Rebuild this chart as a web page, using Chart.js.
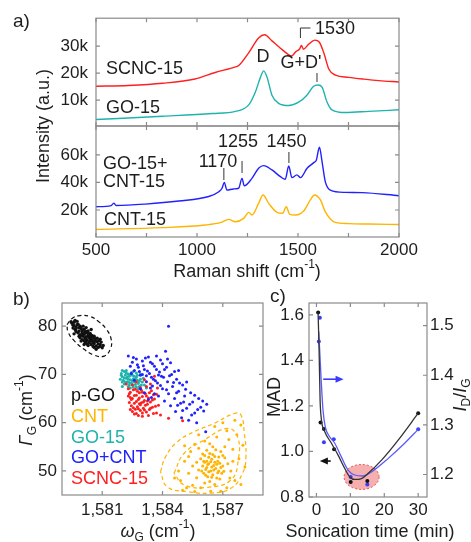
<!DOCTYPE html>
<html>
<head>
<meta charset="utf-8">
<script src="https://cdn.jsdelivr.net/npm/chart.js@4.4.0/dist/chart.umd.min.js"></script>
<style>
  html, body { margin: 0; padding: 0; background: #fff; }
  #wrap { position: relative; width: 471px; height: 542px; overflow: hidden; }
  #wrap canvas { position: absolute; left: 0; top: 0; }
</style>
</head>
<body>
<div id="wrap">
  <canvas id="ramanTop" width="471" height="542"></canvas>
  <canvas id="ramanBottom" width="471" height="542"></canvas>
  <canvas id="mapB" width="471" height="542"></canvas>
  <canvas id="sonicC" width="471" height="542"></canvas>
</div>
<script>
// ---------- panel a: Raman spectra ----------
const scncShift = [500, 660, 830, 990, 1090, 1190, 1207, 1255, 1305, 1335, 1371, 1413, 1446, 1468, 1490, 1508, 1517, 1527, 1553, 1583, 1606, 1628, 1653, 1686, 1750, 1820, 1900, 2000];
const scncInt = [15100, 15400, 16200, 17800, 20200, 22300, 22800, 27400, 33000, 34200, 31900, 29200, 27200, 26300, 28000, 28900, 30200, 28800, 30700, 32200, 31400, 27400, 21400, 19200, 18400, 17800, 17200, 16700];

const goShift = [500, 830, 1075, 1190, 1256, 1289, 1314, 1330, 1347, 1371, 1404, 1454, 1503, 1544, 1577, 1599, 1619, 1643, 1668, 1734, 1850, 2000];
const goInt = [2800, 4000, 5000, 5800, 8200, 13000, 18400, 20800, 18400, 11800, 8800, 8000, 9200, 11800, 15100, 15600, 14800, 9400, 6400, 5400, 5800, 6400];

const mixShift = [500, 575, 588, 600, 745, 910, 1058, 1108, 1124, 1135, 1148, 1181, 1206, 1223, 1234, 1272, 1305, 1330, 1371, 1413, 1437, 1454, 1470, 1495, 1512, 1545, 1578, 1591, 1606, 1619, 1635, 1660, 1734, 1817, 2000];
const mixInt = [22400, 23200, 25000, 23300, 24300, 26500, 29800, 33300, 35800, 40100, 34500, 35300, 35800, 43000, 37500, 43000, 50300, 52200, 49100, 44200, 42300, 52000, 43500, 45500, 43500, 50300, 54400, 56400, 65600, 55200, 40600, 34500, 32800, 32600, 30400];

const cntShift = [500, 830, 1040, 1120, 1157, 1190, 1231, 1256, 1272, 1305, 1327, 1355, 1396, 1424, 1442, 1459, 1487, 1528, 1561, 1581, 1611, 1635, 1660, 1685, 1750, 1850, 2000];
const cntInt = [5900, 7200, 9100, 11000, 13200, 11500, 13900, 18300, 16400, 24800, 30900, 24800, 18300, 17600, 22400, 16800, 16400, 19300, 27300, 30900, 27300, 18800, 13500, 11000, 10100, 9800, 9500];

const ramanTicks = [500, 1000, 1500, 2000];
const ramanMinor = [500, 750, 1000, 1250, 1500, 1750, 2000];
const topTicks = [10000, 20000, 30000];
const bottomTicks = [20000, 40000, 60000];

// ---------- panel b: G-band position vs width maps ----------
const pgoW = [1579.5, 1579.6, 1579.7, 1579.8, 1579.65, 1579.85, 1579.95, 1580.0, 1580.1, 1579.9, 1580.2, 1580.3, 1580.15, 1580.05, 1580.4, 1580.25, 1580.5, 1580.35, 1580.6, 1580.45, 1580.7, 1580.8, 1580.55, 1580.0, 1579.8, 1579.7, 1580.2, 1580.65, 1580.75, 1580.9, 1581.0, 1580.4, 1580.5, 1580.1, 1579.55, 1579.45, 1579.75, 1580.3, 1580.6, 1580.85, 1580.95, 1580.3, 1580.15, 1579.9, 1580.05, 1579.6, 1580.7, 1580.45, 1580.25, 1579.95, 1580.35, 1580.55, 1580.2, 1580.0, 1580.1,
  1579.6, 1579.75, 1579.9, 1579.7, 1579.85, 1580.0, 1580.15, 1580.3, 1580.45, 1580.6, 1580.75, 1580.9, 1580.05, 1579.85, 1580.2, 1580.35, 1580.5, 1580.65, 1580.8, 1580.4, 1580.25, 1580.6, 1580.9, 1581.05, 1580.1, 1579.95, 1579.55, 1579.65, 1580.2, 1580.45];
const pgoG = [80.6, 80.1, 79.8, 80.4, 79.3, 79.0, 79.5, 78.8, 78.3, 78.2, 78.9, 77.9, 77.5, 77.9, 77.4, 77.1, 76.9, 76.6, 76.4, 76.2, 75.9, 75.6, 75.8, 77.2, 78.6, 78.9, 76.8, 77.2, 76.8, 76.2, 75.5, 78.5, 78.0, 79.3, 79.6, 80.9, 81.0, 79.0, 77.6, 77.0, 76.7, 76.0, 76.5, 77.6, 80.0, 78.4, 75.2, 77.7, 78.6, 78.1, 78.2, 76.6, 77.3, 78.4, 77.0,
  80.8, 80.3, 80.0, 79.5, 79.7, 79.2, 78.7, 78.4, 78.1, 77.9, 77.5, 77.3, 78.6, 77.9, 77.8, 77.6, 77.2, 76.9, 76.3, 76.9, 76.3, 75.6, 75.8, 76.0, 76.2, 76.9, 80.2, 81.2, 79.7, 79.3];
const pgoRingW = [1579.25, 1579.5, 1579.9, 1580.4, 1580.8, 1581.2, 1581.45, 1581.4, 1581.1, 1580.6, 1580.1, 1579.6, 1579.3, 1579.25];
const pgoRingG = [80.3, 81.6, 82.2, 82.0, 81.0, 79.4, 77.2, 75.2, 73.8, 74.0, 75.2, 77.0, 78.8, 80.3];

const go15W = [1581.95, 1582.0, 1582.05, 1582.1, 1582.15, 1582.2, 1582.25, 1582.3, 1582.35, 1582.4, 1582.45, 1582.5, 1582.55, 1582.6, 1582.65, 1582.7, 1582.75, 1582.8, 1582.85, 1582.9, 1583.0, 1583.1, 1583.2, 1582.2, 1582.35, 1582.55, 1582.1, 1581.9, 1582.0, 1582.7, 1582.45, 1582.8, 1582.25, 1582.6, 1582.4,
  1582.0, 1582.1, 1582.15, 1582.3, 1582.4, 1582.5, 1582.55, 1582.65, 1582.75, 1582.85, 1582.95, 1583.05, 1582.3, 1582.0, 1581.95, 1582.5, 1582.7, 1582.2, 1582.9, 1582.35];
const go15G = [70.2, 69.5, 68.8, 70.6, 69.9, 69.2, 68.5, 70.1, 69.6, 68.9, 68.2, 69.8, 69.1, 68.5, 67.9, 69.4, 68.8, 68.1, 67.5, 69.0, 68.4, 67.8, 67.2, 70.8, 67.8, 67.4, 68.0, 69.0, 67.5, 70.3, 70.4, 67.0, 69.5, 69.6, 67.2,
  70.8, 69.3, 68.4, 69.0, 70.0, 68.7, 70.6, 69.0, 69.8, 68.6, 67.8, 69.2, 67.5, 68.4, 69.8, 67.9, 67.4, 70.3, 70.1, 68.3];

const mixW = [1582.3, 1582.5, 1582.6, 1582.7, 1582.8, 1582.9, 1583.0, 1583.1, 1583.2, 1583.3, 1583.35, 1583.4, 1583.5, 1583.55, 1583.6, 1583.7, 1583.75, 1583.8, 1583.9, 1583.95, 1584.0, 1584.1, 1584.15, 1584.2, 1584.25, 1584.3, 1584.4, 1584.45, 1584.5, 1584.6, 1584.65, 1584.7, 1584.8, 1584.9, 1584.95, 1585.0, 1585.1, 1585.2, 1585.3, 1585.4, 1585.5, 1585.6, 1585.8, 1585.9, 1586.0, 1586.2, 1585.7, 1582.9, 1583.1, 1583.3, 1582.6, 1583.0, 1584.0, 1584.6, 1583.8, 1583.45, 1584.3, 1585.2, 1582.45, 1586.15,
  1582.4, 1582.55, 1582.75, 1582.85, 1583.05, 1583.15, 1583.25, 1583.4, 1583.45, 1583.6, 1583.65, 1583.85, 1583.9, 1584.05, 1584.1, 1584.2, 1584.35, 1584.4, 1584.55, 1584.7, 1584.75, 1584.85, 1585.05, 1585.15, 1585.35, 1585.45, 1585.6, 1585.75, 1586.05, 1585.0, 1583.2, 1583.5, 1584.8, 1583.7, 1584.25];
const mixG = [73.8, 72.5, 70.8, 73.2, 71.5, 69.8, 72.8, 71.0, 68.5, 73.6, 70.2, 67.2, 72.2, 69.0, 66.0, 71.0, 68.2, 65.5, 73.0, 69.6, 67.0, 64.5, 74.8, 71.5, 68.5, 66.0, 63.5, 70.0, 67.5, 65.0, 62.3, 69.0, 66.5, 64.0, 61.0, 67.8, 65.5, 63.0, 60.5, 66.2, 64.3, 62.0, 65.0, 63.2, 64.5, 63.8, 60.0, 67.0, 66.2, 64.8, 68.8, 70.0, 72.2, 70.6, 69.9, 65.2, 80.0, 68.4, 70.2, 58.1,
  71.7, 73.5, 72.0, 70.6, 71.8, 73.4, 70.7, 72.5, 69.4, 71.7, 68.7, 70.5, 67.7, 69.4, 71.0, 66.8, 69.7, 72.4, 68.3, 66.2, 63.6, 68.2, 64.3, 66.9, 63.8, 61.6, 65.7, 62.7, 62.4, 62.5, 69.7, 67.6, 70.8, 73.8, 73.2];

const scncW = [1582.3, 1582.35, 1582.4, 1582.45, 1582.5, 1582.55, 1582.6, 1582.65, 1582.7, 1582.75, 1582.8, 1582.85, 1582.9, 1582.95, 1583.0, 1583.05, 1583.1, 1583.15, 1583.2, 1583.25, 1583.3, 1583.35, 1583.4, 1583.45, 1583.5, 1583.6, 1583.7, 1583.8, 1583.9, 1582.5, 1582.7, 1582.9, 1583.1, 1582.6, 1582.8, 1583.0, 1583.2, 1583.4, 1582.4, 1583.55, 1582.65, 1583.15, 1582.95, 1583.3, 1584.3, 1585.0, 1583.6, 1582.2, 1583.75, 1582.85,
  1582.35, 1582.45, 1582.55, 1582.6, 1582.7, 1582.75, 1582.8, 1582.85, 1582.9, 1583.0, 1583.05, 1583.1, 1583.2, 1583.25, 1583.35, 1583.4, 1583.5, 1583.65, 1583.7, 1582.5, 1582.7, 1583.0, 1583.55, 1582.4, 1582.3];
const scncG = [65.5, 64.2, 66.3, 63.5, 65.0, 66.8, 64.0, 62.8, 65.7, 63.3, 64.8, 66.2, 62.5, 64.1, 65.4, 63.0, 64.6, 66.0, 62.2, 63.8, 65.1, 62.7, 64.3, 66.6, 63.2, 64.9, 62.0, 63.6, 61.6, 67.8, 68.4, 67.3, 68.9, 61.8, 61.5, 62.0, 67.5, 68.0, 62.7, 65.8, 66.9, 63.6, 66.7, 61.5, 60.9, 60.4, 69.6, 68.0, 67.2, 63.9,
  66.0, 64.8, 63.1, 65.6, 64.4, 66.5, 62.9, 65.1, 63.7, 66.3, 64.3, 62.6, 65.5, 64.5, 66.2, 63.0, 64.7, 63.4, 65.9, 62.3, 61.9, 61.3, 61.9, 65.2, 67.0];

const cntW = [1585.9, 1586.0, 1586.05, 1586.1, 1586.15, 1586.2, 1586.25, 1586.3, 1586.35, 1586.4, 1586.45, 1586.5, 1586.55, 1586.6, 1586.65, 1586.7, 1586.75, 1586.8, 1586.85, 1586.9, 1586.95, 1587.0, 1586.2, 1586.35, 1586.5, 1585.8, 1585.7, 1586.1, 1586.6, 1587.1, 1586.3, 1586.45, 1586.25, 1586.6, 1586.05,
  1584.8, 1584.9, 1585.1, 1585.2, 1585.3, 1585.4, 1585.5, 1585.6, 1585.1, 1585.0, 1587.3, 1587.5, 1587.7, 1587.4, 1587.6, 1587.8, 1587.2, 1586.9, 1586.4, 1587.9, 1587.6, 1587.2, 1586.7, 1586.1, 1588.0, 1588.1, 1587.9, 1585.6, 1587.1, 1585.8,
  1586.0, 1586.1, 1586.2, 1586.3, 1586.4, 1586.5, 1586.55, 1586.7, 1586.75, 1586.8, 1586.9, 1587.0, 1586.15, 1586.45, 1586.85, 1587.05, 1585.95, 1586.65, 1586.35, 1585.5, 1585.3, 1585.7, 1587.25, 1587.5, 1587.35, 1585.9, 1586.6, 1587.0, 1584.6, 1585.8];
const cntG = [52.5, 51.0, 49.5, 53.2, 50.3, 52.0, 48.8, 51.5, 53.6, 50.0, 52.4, 49.2, 51.1, 53.0, 50.5, 48.5, 52.0, 50.0, 51.6, 54.0, 49.5, 51.0, 54.3, 47.8, 55.0, 50.2, 51.8, 47.5, 47.2, 52.7, 49.8, 50.8, 51.3, 51.8, 52.0,
  50.0, 48.0, 52.0, 46.5, 49.5, 54.0, 47.0, 55.5, 55.2, 46.0, 56.5, 54.5, 57.5, 50.0, 48.0, 52.5, 46.5, 45.8, 45.8, 59.5, 60.5, 58.3, 57.0, 56.2, 55.3, 50.8, 47.2, 45.7, 55.0, 57.5,
  53.5, 51.8, 50.7, 52.8, 51.9, 53.4, 50.2, 51.4, 49.6, 52.9, 50.7, 53.2, 49.1, 48.7, 48.3, 49.9, 50.0, 54.4, 55.6, 51.0, 53.0, 48.6, 51.5, 52.0, 48.5, 46.5, 59.2, 60.0, 48.5, 54.7];
const cntOuterW = [1583.9, 1584.15, 1584.73, 1585.57, 1586.57, 1587.57, 1587.9, 1588.07, 1588.15, 1587.98, 1587.4, 1586.4, 1585.23, 1584.23, 1583.9];
const cntOuterG = [49.8, 52.9, 56.0, 58.1, 59.85, 61.9, 61.6, 57.8, 52.9, 49.5, 46.4, 45.4, 45.7, 46.7, 49.8];
const cntInnerW = [1584.57, 1585.07, 1586.07, 1587.23, 1587.73, 1587.77, 1587.4, 1586.23, 1585.07, 1584.57];
const cntInnerG = [49.5, 53.6, 56.4, 58.8, 57.1, 52.3, 48.1, 46.6, 47.1, 49.5];

const omegaTicks = [1581, 1584, 1587];
const gammaTicks = [50, 60, 70, 80];

// ---------- panel c: sonication series ----------
const sonicTime = [0.5, 1.2, 2.2, 5.2, 10.1, 15, 30];
const madValue = [1.61, 1.127, 1.099, 1.01, 0.866, 0.87, 1.168];
const ratioTime = [0.7, 1.0, 2.2, 5.1, 10.1, 15, 30];
const ratioValue = [1.468, 1.516, 1.265, 1.271, 1.195, 1.180, 1.291];
const madFitTime = [0.48, 0.77, 1.07, 1.47, 2.45, 4.42, 6.38, 8.35, 9.82, 11.3, 13.3, 15.2, 19.2, 24.1, 30];
const madFitValue = [1.61, 1.448, 1.227, 1.139, 1.087, 1.036, 0.984, 0.925, 0.888, 0.877, 0.881, 0.903, 0.962, 1.05, 1.168];
const ratioFitTime = [0.66, 0.95, 1.44, 1.93, 2.6, 3.9, 5.4, 7.3, 9.3, 11.3, 13.7, 16.2, 21.1, 26.0, 30];
const ratioFitValue = [1.488, 1.451, 1.384, 1.33, 1.296, 1.276, 1.263, 1.236, 1.209, 1.199, 1.197, 1.205, 1.232, 1.263, 1.291];

const timeTicks = [0, 10, 20, 30];
const madTicks = [0.8, 1.0, 1.2, 1.4, 1.6];
const ratioTicks = [1.2, 1.3, 1.4, 1.5];

// ---------- common helpers ----------
const FONT = "'Liberation Sans', Arial, sans-serif";
const INK = '#1e1e1e';
const FRAME = '#8a8a8a';
const TICK = 4;
const RED = '#ff1f1f', TEAL = '#1fb3ad', BLUE = '#2121ff', ORANGE = '#ffb400';

Chart.defaults.font.family = FONT;
Chart.defaults.color = INK;
Chart.defaults.animation = false;
Chart.defaults.events = [];
Chart.defaults.plugins.legend.display = false;
Chart.defaults.plugins.tooltip.enabled = false;

const pts = (xs, ys) => xs.map((x, i) => ({ x, y: ys[i] }));
const fixedTicks = values => scale => { scale.ticks = values.map(v => ({ value: v })); };

function axis(extra) {
    return Object.assign({
        type: 'linear',
        grid: { display: false, drawTicks: false },
        border: { display: false },
    }, extra);
}

// text with optional italic / sub / superscript pieces: [text, kind]
function rich(ctx, parts, x, y, opt) {
    const size = opt.size || 18;
    const fontFor = kind => {
        const small = kind === 'sub' || kind === 'sup' || kind === 'isub';
        const it = kind === 'i' || kind === 'isub';
        return (it ? 'italic ' : '') + Math.round(small ? size * 0.68 : size) + 'px ' + FONT;
    };
    let total = 0;
    parts.forEach(p => { ctx.font = fontFor(p[1]); total += ctx.measureText(p[0]).width; });
    ctx.save();
    ctx.translate(x, y);
    if (opt.rotate) ctx.rotate(-Math.PI / 2);
    ctx.fillStyle = opt.color || INK;
    ctx.textBaseline = 'middle';
    ctx.textAlign = 'left';
    let cx = opt.align === 'center' ? -total / 2 : 0;
    parts.forEach(p => {
        ctx.font = fontFor(p[1]);
        let dy = 0;
        if (p[1] === 'sub' || p[1] === 'isub') dy = size * 0.3;
        if (p[1] === 'sup') dy = -size * 0.38;
        ctx.fillText(p[0], cx, dy);
        cx += ctx.measureText(p[0]).width;
    });
    ctx.restore();
}
const label = (ctx, t, x, y, opt) => rich(ctx, [[t, '']], x, y, opt || {});

function stroke(ctx, coords, color, width) {
    ctx.beginPath();
    ctx.moveTo(coords[0], coords[1]);
    for (let i = 2; i < coords.length; i += 2) ctx.lineTo(coords[i], coords[i + 1]);
    ctx.strokeStyle = color || '#333';
    ctx.lineWidth = width || 1;
    ctx.stroke();
}

function arrow(ctx, x0, y0, x1, color) {
    const dir = Math.sign(x1 - x0);
    stroke(ctx, [x0, y0, x1 - dir * 6, y0], color, 1.6);
    ctx.beginPath();
    ctx.moveTo(x1, y0);
    ctx.lineTo(x1 - dir * 8, y0 - 3.5);
    ctx.lineTo(x1 - dir * 8, y0 + 3.5);
    ctx.closePath();
    ctx.fillStyle = color;
    ctx.fill();
}

// box frame with inward ticks, plus chart specific drawing
function framePlugin(spec) {
    return {
        id: 'frame',
        beforeDatasetsDraw(chart) {
            if (!spec.under) return;
            chart.ctx.save();
            spec.under(chart, chart.ctx);
            chart.ctx.restore();
        },
        afterDatasetsDraw(chart) {
            const ctx = chart.ctx, a = chart.chartArea;
            ctx.save();
            ctx.strokeStyle = FRAME;
            ctx.lineWidth = 1.2;
            ctx.strokeRect(a.left, a.top, a.width, a.height);
            ctx.beginPath();
            spec.ticks.forEach(t => {
                const s = chart.scales[t.scale];
                t.values.forEach(v => {
                    const p = s.getPixelForValue(v);
                    t.sides.forEach(side => {
                        if (side === 'top') { ctx.moveTo(p, a.top); ctx.lineTo(p, a.top + TICK); }
                        if (side === 'bottom') { ctx.moveTo(p, a.bottom); ctx.lineTo(p, a.bottom - TICK); }
                        if (side === 'left') { ctx.moveTo(a.left, p); ctx.lineTo(a.left + TICK, p); }
                        if (side === 'right') { ctx.moveTo(a.right, p); ctx.lineTo(a.right - TICK, p); }
                    });
                });
            });
            ctx.stroke();
            if (spec.over) spec.over(chart, ctx);
            ctx.restore();
        }
    };
}

const spectrum = (xs, ys, color) => ({
    data: pts(xs, ys), borderColor: color, borderWidth: 1.4,
    pointRadius: 0, cubicInterpolationMode: 'monotone', fill: false,
});

// ---------- panel a, upper part ----------
new Chart(document.getElementById('ramanTop'), {
    type: 'line',
    data: { datasets: [spectrum(scncShift, scncInt, RED), spectrum(goShift, goInt, TEAL)] },
    options: {
        responsive: false,
        layout: { padding: { left: 0, top: 15, right: 72, bottom: 416 } },
        scales: {
            x: axis({ min: 500, max: 2000, display: false }),
            y: axis({
                min: 400, max: 40300,
                afterFit: s => { s.width = 96; },
                afterBuildTicks: fixedTicks(topTicks),
                ticks: { font: { size: 17 }, padding: 8, autoSkip: false, callback: v => v / 1000 + 'k' },
            }),
        },
    },
    plugins: [framePlugin({
        ticks: [
            { scale: 'x', values: ramanMinor, sides: ['top', 'bottom'] },
            { scale: 'y', values: topTicks, sides: ['left', 'right'] },
        ],
        over(chart, ctx) {
            const x = chart.scales.x;
            label(ctx, 'a)', 13, 22, { size: 19 });
            label(ctx, 'Intensity (a.u.)', 44, 126, { rotate: true, align: 'center' });
            label(ctx, 'SCNC-15', 106, 69);
            label(ctx, 'GO-15', 106, 108);
            label(ctx, 'D', 263, 57, { align: 'center' });
            label(ctx, "G+D'", 301, 63, { align: 'center' });
            stroke(ctx, [x.getPixelForValue(1594), 73, x.getPixelForValue(1594), 82]);
            label(ctx, '1530', 315, 29);
            const bx = x.getPixelForValue(1512);
            stroke(ctx, [bx, 38, bx, 28, bx + 10, 28]);
        },
    })],
});

// ---------- panel a, lower part ----------
new Chart(document.getElementById('ramanBottom'), {
    type: 'line',
    data: { datasets: [spectrum(mixShift, mixInt, BLUE), spectrum(cntShift, cntInt, ORANGE)] },
    options: {
        responsive: false,
        layout: { padding: { left: 0, top: 126, right: 72, bottom: 256 } },
        scales: {
            x: axis({
                min: 500, max: 2000,
                afterFit: s => { s.height = 49; },
                afterBuildTicks: fixedTicks(ramanTicks),
                ticks: { font: { size: 17 }, padding: 3, autoSkip: false, maxRotation: 0, callback: v => String(v) },
            }),
            y: axis({
                min: 400, max: 81000,
                afterFit: s => { s.width = 96; },
                afterBuildTicks: fixedTicks(bottomTicks),
                ticks: { font: { size: 17 }, padding: 8, autoSkip: false, callback: v => v / 1000 + 'k' },
            }),
        },
    },
    plugins: [framePlugin({
        ticks: [
            { scale: 'x', values: ramanMinor, sides: ['top', 'bottom'] },
            { scale: 'y', values: bottomTicks, sides: ['left', 'right'] },
        ],
        over(chart, ctx) {
            const x = chart.scales.x;
            label(ctx, 'GO-15+', 103, 164);
            label(ctx, 'CNT-15', 103, 182.5);
            label(ctx, 'CNT-15', 104, 220);
            label(ctx, '1170', 218, 162.5, { align: 'center' });
            label(ctx, '1255', 238, 142.5, { align: 'center' });
            label(ctx, '1450', 286.5, 142.5, { align: 'center' });
            [[1133, 168, 180], [1223, 161, 173], [1455, 152, 163]].forEach(m => {
                const px = x.getPixelForValue(m[0]);
                stroke(ctx, [px, m[1], px, m[2]]);
            });
            rich(ctx, [['Raman shift (cm', ''], ['-1', 'sup'], [')', '']], 247, 272, { align: 'center' });
        },
    })],
});

// ---------- panel b ----------
const dots = (xs, ys, color, r) => ({
    type: 'scatter', data: pts(xs, ys), pointRadius: r || 1.5, pointBorderWidth: 0,
    pointBackgroundColor: color, showLine: false,
});
const ring = (xs, ys, color) => ({
    type: 'line', data: pts(xs, ys), borderColor: color, borderWidth: 1.2, borderDash: [4, 3],
    pointRadius: 0, tension: 0.45, fill: false,
});

new Chart(document.getElementById('mapB'), {
    type: 'scatter',
    data: {
        datasets: [
            ring(cntOuterW, cntOuterG, ORANGE),
            ring(cntInnerW, cntInnerG, ORANGE),
            dots(cntW, cntG, ORANGE),
            ring(pgoRingW, pgoRingG, '#111'),
            dots(pgoW, pgoG, '#111', 1.7),
            dots(mixW, mixG, BLUE),
            dots(scncW, scncG, RED),
            dots(go15W, go15G, TEAL),
        ],
    },
    options: {
        responsive: false,
        layout: { padding: { left: 0, top: 303, right: 208, bottom: 0 } },
        scales: {
            x: axis({
                min: 1579, max: 1589,
                afterFit: s => { s.height = 47; },
                afterBuildTicks: fixedTicks(omegaTicks),
                ticks: { font: { size: 17 }, padding: 5, autoSkip: false, maxRotation: 0, callback: v => v.toLocaleString('en-US') },
            }),
            y: axis({
                min: 45, max: 84.8,
                afterFit: s => { s.width = 62; },
                afterBuildTicks: fixedTicks(gammaTicks),
                ticks: { font: { size: 17 }, padding: 5, autoSkip: false, callback: v => String(v) },
            }),
        },
    },
    plugins: [framePlugin({
        ticks: [
            { scale: 'x', values: omegaTicks, sides: ['top', 'bottom'] },
            { scale: 'y', values: gammaTicks, sides: ['left', 'right'] },
        ],
        over(chart, ctx) {
            label(ctx, 'b)', 13, 300, { size: 19 });
            rich(ctx, [['Γ', 'i'], ['G', 'sub'], [' (cm', ''], ['-1', 'sup'], [')', '']], 27, 410, { rotate: true, align: 'center' });
            rich(ctx, [['ω', 'i'], ['G', 'sub'], [' (cm', ''], ['-1', 'sup'], [')', '']], 158, 532, { align: 'center' });
            label(ctx, 'p-GO', 71, 396, { color: '#111' });
            label(ctx, 'CNT', 71, 417, { color: ORANGE });
            label(ctx, 'GO-15', 71, 438, { color: TEAL });
            label(ctx, 'GO+CNT', 71, 458, { color: BLUE });
            label(ctx, 'SCNC-15', 71, 479, { color: RED });
        },
    })],
});

// ---------- panel c ----------
const C_BLUE = '#3b3bff';
new Chart(document.getElementById('sonicC'), {
    type: 'line',
    data: {
        datasets: [
            { data: pts(madFitTime, madFitValue), borderColor: '#333', borderWidth: 1.3, pointRadius: 0, cubicInterpolationMode: 'monotone', yAxisID: 'y' },
            { data: pts(ratioFitTime, ratioFitValue), borderColor: '#5a5aff', borderWidth: 1.3, pointRadius: 0, cubicInterpolationMode: 'monotone', yAxisID: 'y2' },
            { data: pts(sonicTime, madValue), showLine: false, pointRadius: 2, pointBorderWidth: 0, pointBackgroundColor: '#111', yAxisID: 'y' },
            { data: pts(ratioTime, ratioValue), showLine: false, pointRadius: 2, pointBorderWidth: 0, pointBackgroundColor: C_BLUE, yAxisID: 'y2' },
        ],
    },
    options: {
        responsive: false,
        layout: { padding: { left: 268, top: 303, right: 0, bottom: 0 } },
        scales: {
            x: axis({
                min: -2.2, max: 32.6,
                afterFit: s => { s.height = 45; },
                afterBuildTicks: fixedTicks(timeTicks),
                ticks: { font: { size: 17 }, padding: 3, autoSkip: false, maxRotation: 0, callback: v => String(v) },
            }),
            y: axis({
                position: 'left', min: 0.8, max: 1.652,
                afterFit: s => { s.width = 41; },
                afterBuildTicks: fixedTicks(madTicks),
                ticks: { font: { size: 17 }, padding: 5, autoSkip: false, callback: v => v.toFixed(1) },
            }),
            y2: axis({
                position: 'right', min: 1.1547, max: 1.5455,
                afterFit: s => { s.width = 44; },
                afterBuildTicks: fixedTicks(ratioTicks),
                ticks: { font: { size: 17 }, padding: 3, autoSkip: false, callback: v => v.toFixed(1) },
            }),
        },
    },
    plugins: [framePlugin({
        ticks: [
            { scale: 'x', values: timeTicks, sides: ['top', 'bottom'] },
            { scale: 'y', values: madTicks, sides: ['left'] },
            { scale: 'y2', values: ratioTicks, sides: ['right'] },
        ],
        under(chart, ctx) {
            const cx = chart.scales.x.getPixelForValue(13.3);
            const cy = chart.scales.y.getPixelForValue(0.888);
            ctx.beginPath();
            ctx.ellipse(cx, cy, 17.5, 12.5, 0, 0, Math.PI * 2);
            ctx.fillStyle = 'rgba(238, 96, 96, 0.5)';
            ctx.fill();
            ctx.setLineDash([2, 2]);
            ctx.strokeStyle = 'rgba(230, 50, 50, 0.8)';
            ctx.lineWidth = 1;
            ctx.stroke();
            ctx.setLineDash([]);
        },
        over(chart, ctx) {
            const x = chart.scales.x, y = chart.scales.y, y2 = chart.scales.y2;
            label(ctx, 'c)', 270, 297, { size: 19 });
            arrow(ctx, x.getPixelForValue(2), y2.getPixelForValue(1.392), x.getPixelForValue(8), C_BLUE);
            arrow(ctx, x.getPixelForValue(4.2), y.getPixelForValue(0.958), x.getPixelForValue(1), '#111');
            label(ctx, 'MAD', 275, 397, { rotate: true, align: 'center' });
            rich(ctx, [['I', 'i'], ['D', 'sub'], ['/', ''], ['I', 'i'], ['G', 'sub']], 461, 395, { rotate: true, align: 'center' });
            label(ctx, 'Sonication time (min)', 370, 532, { align: 'center' });
        },
    })],
});
</script>
</body>
</html>
